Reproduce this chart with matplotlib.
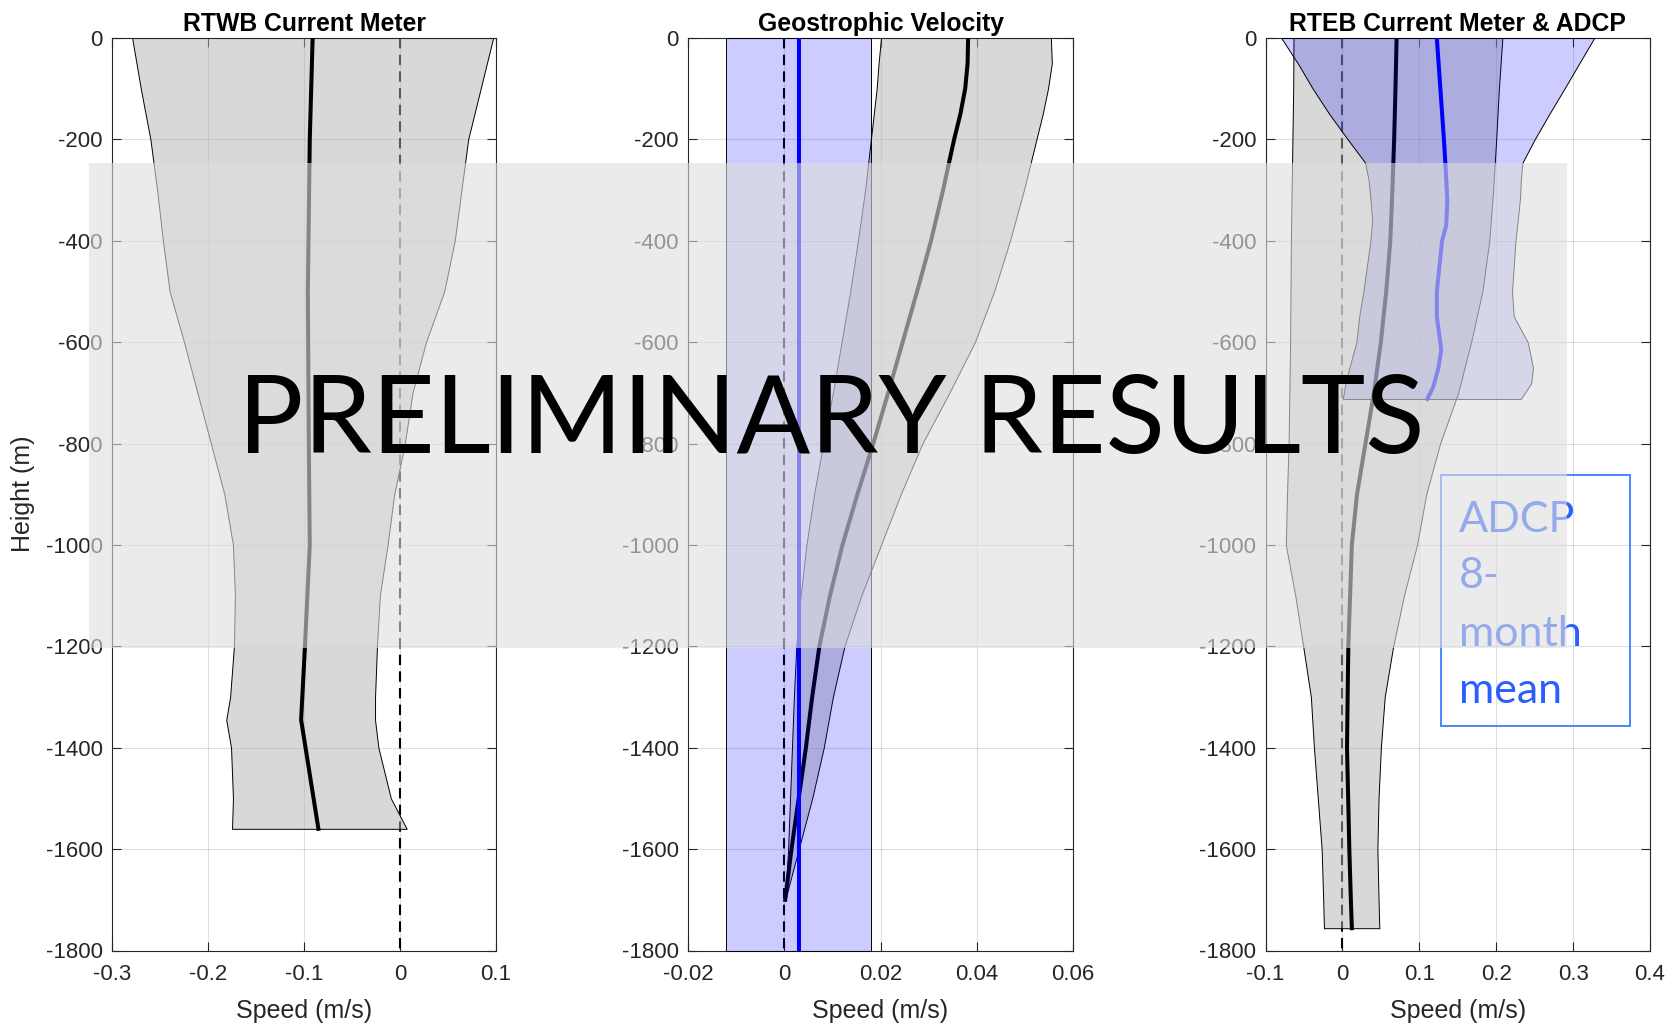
import matplotlib
matplotlib.use('Agg')
import matplotlib.pyplot as plt
from matplotlib.patches import Rectangle

plt.rcParams['font.family'] = ['Liberation Sans', 'DejaVu Sans']

# ---------------- data ----------------
titles = ['RTWB Current Meter', 'Geostrophic Velocity', 'RTEB Current Meter & ADCP']
ytick_vals = [0, -200, -400, -600, -800, -1000, -1200, -1400, -1600, -1800]
ytick_labels = ['0', '-200', '-400', '-600', '-800', '-1000', '-1200', '-1400', '-1600', '-1800']
xticks1 = [-0.3, -0.2, -0.1, 0, 0.1]
xlabels1 = ['-0.3', '-0.2', '-0.1', '0', '0.1']
xticks2 = [-0.02, 0, 0.02, 0.04, 0.06]
xlabels2 = ['-0.02', '0', '0.02', '0.04', '0.06']
xticks3 = [-0.1, 0, 0.1, 0.2, 0.3, 0.4]
xlabels3 = ['-0.1', '0', '0.1', '0.2', '0.3', '0.4']

# Panel 1: RTWB current meter (mean and envelope)
rtwb_z = [0, -100, -200, -300, -400, -500, -600, -700, -800, -900, -1000, -1100, -1200, -1300, -1345, -1400, -1500, -1560]
rtwb_lo = [-0.279, -0.270, -0.260, -0.253, -0.247, -0.240, -0.225, -0.211, -0.197, -0.183, -0.174, -0.172, -0.173, -0.177, -0.181, -0.176, -0.174, -0.175]
rtwb_hi = [0.097, 0.084, 0.071, 0.064, 0.057, 0.046, 0.027, 0.013, 0.005, -0.006, -0.013, -0.021, -0.024, -0.026, -0.026, -0.0225, -0.0095, 0.007]
rtwb_mean_z = [0, -200, -500, -800, -1000, -1200, -1345, -1560]
rtwb_mean = [-0.091, -0.094, -0.096, -0.095, -0.094, -0.099, -0.103, -0.085]

# Panel 2: geostrophic velocity
geo_z = [0, -50, -100, -150, -200, -300, -400, -500, -600, -700, -800, -900, -1000, -1100, -1200, -1300, -1400, -1500, -1600, -1700]
geo_mean = [0.0382, 0.0381, 0.0376, 0.0366, 0.0353, 0.0330, 0.0305, 0.0276, 0.0246, 0.0216, 0.0185, 0.0152, 0.0121, 0.0095, 0.0073, 0.0058, 0.0045, 0.0030, 0.0015, 0.0002]
geo_lo = [0.0201, 0.0196, 0.0192, 0.0186, 0.0180, 0.0168, 0.0153, 0.0137, 0.0119, 0.0101, 0.0081, 0.0062, 0.0046, 0.0034, 0.0025, 0.0020, 0.0016, 0.0012, 0.0008, 0.0002]
geo_hi = [0.0554, 0.0556, 0.0548, 0.0537, 0.0524, 0.0498, 0.0469, 0.0436, 0.0396, 0.0343, 0.0287, 0.0242, 0.0201, 0.0160, 0.0125, 0.0101, 0.0082, 0.0058, 0.0030, 0.0002]
geo_ref_mean = 0.0030
geo_ref_lo = -0.0122
geo_ref_hi = 0.0181

# Panel 3: RTEB current meter
rteb_z = [0, -100, -200, -300, -400, -500, -600, -700, -800, -900, -1000, -1100, -1200, -1300, -1400, -1500, -1600, -1700, -1756]
rteb_mean = [0.0705, 0.069, 0.0673, 0.065, 0.0623, 0.057, 0.050, 0.041, 0.030, 0.019, 0.0123, 0.010, 0.0077, 0.0068, 0.006, 0.0075, 0.009, 0.011, 0.0123]
rteb_lo = [-0.0636, -0.064, -0.065, -0.066, -0.067, -0.0675, -0.068, -0.069, -0.070, -0.072, -0.0736, -0.0613, -0.051, -0.041, -0.037, -0.032, -0.027, -0.025, -0.024]
rteb_hi = [0.208, 0.2035, 0.200, 0.196, 0.191, 0.182, 0.1673, 0.1505, 0.127, 0.109, 0.097, 0.080, 0.066, 0.055, 0.050, 0.047, 0.0455, 0.047, 0.048]

# Panel 3: ADCP 8-month mean
adcp_mean_z = [0, -200, -250, -320, -370, -400, -500, -550, -600, -615, -650, -688, -712]
adcp_mean = [0.1228, 0.132, 0.134, 0.1364, 0.135, 0.1296, 0.1228, 0.1228, 0.1273, 0.1285, 0.125, 0.1182, 0.1105]
adcp_z = [0, -50, -100, -150, -200, -246, -280, -315, -360, -400, -500, -549, -600, -650, -681, -712]
adcp_lo = [-0.0795, -0.058, -0.0386, -0.017, 0.0069, 0.0296, 0.034, 0.0364, 0.0387, 0.0364, 0.0273, 0.0219, 0.0182, 0.0091, 0.004, 0.0005]
adcp_hi = [0.3274, 0.308, 0.2887, 0.269, 0.250, 0.2341, 0.232, 0.231, 0.228, 0.2251, 0.2205, 0.2228, 0.241, 0.2478, 0.2455, 0.232]

box_lines = ['ADCP', '8-', 'month', 'mean']
watermark = 'PRELIMINARY RESULTS'

# ---------------- figure ----------------
W, H = 1668, 1023
fig = plt.figure(figsize=(W / 100, H / 100), dpi=100)
axpix = [(112, 496), (688, 1073), (1265.5, 1650)]
top_px, bot_px = 38, 950.5
axes = [fig.add_axes([l / W, 1 - bot_px / H, (r - l) / W, (bot_px - top_px) / H]) for l, r in axpix]

GRAY_FILL = (0.7, 0.7, 0.7, 0.5)
BLUE_FILL = (0.0, 0.0, 1.0, 0.2)
TXT = '#262626'


def style(ax, xlim, xt, xl, title):
    ax.set_xlim(xlim)
    ax.set_ylim(-1800, 0)
    ax.set_xticks(xt)
    ax.set_xticklabels(xl)
    ax.set_yticks(ytick_vals)
    ax.set_yticklabels(ytick_labels)
    ax.grid(True, color=TXT, alpha=0.15, lw=0.8)
    ax.set_axisbelow(True)
    ax.tick_params(direction='in', top=True, right=True, length=6.5, width=0.8,
                   colors=TXT, labelsize=16)
    ax.tick_params(axis='x', pad=10)
    ax.tick_params(axis='y', pad=6.5)
    for s in ax.spines.values():
        s.set_color(TXT)
        s.set_linewidth(0.8)
    ax.set_title(title, fontsize=17.8, fontweight='bold', pad=5)
    ax.set_xlabel('Speed (m/s)', fontsize=18, color=TXT, labelpad=10)


ax1, ax2, ax3 = axes
DASH = dict(ls='--', color='k', lw=1.5, dashes=(5, 3), zorder=1)

# Panel 1
ax1.plot([0, 0], [0, -1800], **DASH)
ax1.fill_betweenx(rtwb_z, rtwb_lo, rtwb_hi, facecolor=GRAY_FILL, edgecolor='k', lw=0.7, zorder=2)
ax1.plot(rtwb_mean, rtwb_mean_z, color='k', lw=2.9, zorder=3)
style(ax1, (-0.3, 0.1), xticks1, xlabels1, titles[0])
ax1.set_ylabel('Height (m)', fontsize=18, color=TXT, labelpad=8)

# Panel 2
ax2.plot([0, 0], [0, -1800], **DASH)
ax2.fill_betweenx(geo_z, geo_lo, geo_hi, facecolor=GRAY_FILL, edgecolor='k', lw=0.7, zorder=2)
ax2.plot(geo_mean, geo_z, color='k', lw=2.9, zorder=3)
ax2.fill_betweenx([0, -1800], [geo_ref_lo, geo_ref_lo], [geo_ref_hi, geo_ref_hi],
                  facecolor=BLUE_FILL, edgecolor='k', lw=0.7, zorder=4)
ax2.plot([geo_ref_mean, geo_ref_mean], [0, -1800], color='b', lw=2.9, zorder=5)
style(ax2, (-0.02, 0.06), xticks2, xlabels2, titles[1])

# Panel 3
ax3.plot([0, 0], [0, -1800], **DASH)
ax3.fill_betweenx(rteb_z, rteb_lo, rteb_hi, facecolor=GRAY_FILL, edgecolor='k', lw=0.7, zorder=2)
ax3.plot(rteb_mean, rteb_z, color='k', lw=2.9, zorder=3)
ax3.fill_betweenx(adcp_z, adcp_lo, adcp_hi, facecolor=BLUE_FILL, edgecolor='k', lw=0.7, zorder=4)
ax3.plot(adcp_mean, adcp_mean_z, color='b', lw=2.9, zorder=5)
style(ax3, (-0.1, 0.4), xticks3, xlabels3, titles[2])

# annotation box in panel 3
ax3.add_patch(Rectangle((0.4557, 0.2456), 0.4931, 0.276, transform=ax3.transAxes,
                        fill=False, edgecolor='#4a86ff', lw=1.4, zorder=6, clip_on=False))
for line, ypx in zip(box_lines, [531.7, 587.5, 646, 702.7]):
    ax3.text(0.504, 1 - (ypx - top_px) / (bot_px - top_px), line, transform=ax3.transAxes,
             fontsize=31, family='Lato', color='#2a5eff', va='baseline', ha='left', zorder=7)

# semi-transparent overlay and watermark
fig.add_artist(Rectangle((89 / W, 1 - 647.5 / H), (1566.7 - 89) / W, (647.5 - 163) / H,
                         transform=fig.transFigure, facecolor=(222 / 255,) * 3, alpha=0.6,
                         edgecolor='none', zorder=5))
fig.text(831.5 / W, 1 - 452.7 / H, watermark, ha='center', va='baseline',
         fontsize=78.5, family='Lato', color='k', zorder=10)

fig.savefig('out.png', dpi=100)
